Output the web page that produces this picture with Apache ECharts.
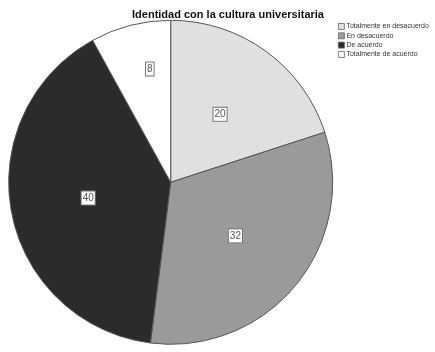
<!DOCTYPE html>
<html>
<head>
<meta charset="utf-8">
<script src="https://cdn.jsdelivr.net/npm/echarts@6/dist/echarts.min.js"></script>
<style>
html, body { margin: 0; padding: 0; background: #fff; }
#chart { width: 435px; height: 352px; }
</style>
</head>
<body>
<div id="chart"></div>
<script>
// categorias y valores
var categories = ['Totalmente en desacuerdo', 'En desacuerdo', 'De acuerdo', 'Totalmente de acuerdo'];
var values = [20, 32, 40, 8];
var colors = ['#e0e0e0', '#9a9a9a', '#2b2b2b', '#ffffff'];

var chart = echarts.init(document.getElementById('chart'));
var data = [];
for (var i = 0; i < categories.length; i++) {
    data.push({ name: categories[i], value: values[i] });
}
// la etiqueta del sector pequeño va más hacia fuera
data[3].label = { offset: [0, -32] };

chart.setOption({
    animation: false,
    color: colors,
    title: {
        text: 'Identidad con la cultura universitaria',
        left: 223,
        top: 4,
        textAlign: 'center',
        textStyle: {
            fontFamily: 'Liberation Sans, Arial',
            fontSize: 11,
            fontWeight: 'bold',
            color: '#111'
        }
    },
    legend: {
        orient: 'vertical',
        left: 333,
        top: 18,
        itemWidth: 6,
        itemHeight: 6,
        itemGap: 2.3,
        icon: 'rect',
        itemStyle: { borderColor: '#666', borderWidth: 0.8 },
        textStyle: {
            fontFamily: 'Liberation Sans, Arial',
            fontSize: 7,
            color: '#333',
            padding: [0, 0, 0, -3]
        },
        data: categories
    },
    series: [{
        type: 'pie',
        center: [170.7, 182.3],
        radius: 162,
        startAngle: 90,
        clockwise: true,
        itemStyle: { borderColor: '#555', borderWidth: 1 },
        label: {
            show: true,
            position: 'inside',
            formatter: '{c}',
            fontFamily: 'Liberation Sans, Arial',
            fontSize: 10,
            color: '#555',
            backgroundColor: '#fff',
            borderColor: '#777',
            borderWidth: 1,
            padding: [2, 1, 1, 1]
        },
        labelLine: { show: false },
        emphasis: { disabled: true },
        data: data
    }]
});
</script>
</body>
</html>
